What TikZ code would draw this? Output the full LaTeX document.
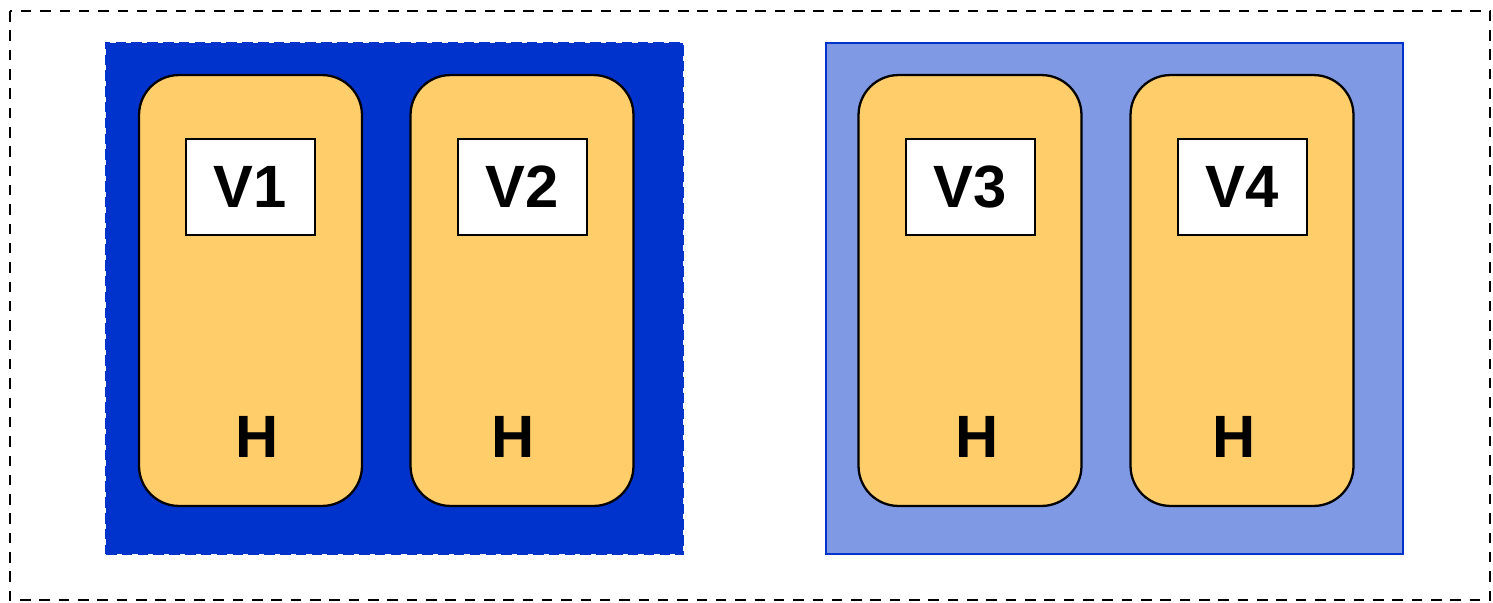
\documentclass[tikz,border=0pt]{standalone}
\usepackage{fontspec}
\setmainfont{Liberation Sans}
\definecolor{darkblue}{HTML}{0033CC}
\definecolor{lightblue}{HTML}{7F99E5}
\definecolor{hostfill}{HTML}{FFCD69}
\begin{document}
\begin{tikzpicture}[x=0.02cm,y=-0.02cm,
    group/.style={minimum width=11.54cm,minimum height=10.22cm,inner sep=0pt,line width=1.2pt},
    host/.style={draw=black,fill=hostfill,rounded corners=0.8cm,line width=1.3pt,minimum width=4.46cm,minimum height=8.62cm,inner sep=0pt},
    vm/.style={draw=black,fill=white,line width=1.1pt,minimum width=2.58cm,minimum height=1.92cm,inner sep=0pt,font=\fontsize{34}{38}\selectfont\bfseries},
    hlabel/.style={font=\fontsize{34}{38}\selectfont\bfseries,inner sep=0pt}]
  \useasboundingbox (0,0) rectangle (1493,602);
  \draw [line width=0.9pt,dash pattern=on 6pt off 5pt] (10,11) rectangle (1490,600);
  % first group
  \node [group,draw=darkblue,fill=darkblue,dash pattern=on 6pt off 3pt] (g1) at (394.5,298.5) {};
  \node [host] (h1) at (250.5,290.5) {};
  \node [host] (h2) at (522,290.5) {};
  \node [vm] (v1) at (250.5,187) {V1};
  \node [vm] (v2) at (522.5,187) {V2};
  \node [hlabel] (l1) at (257,437) {H};
  \node [hlabel] (l2) at (513,437) {H};
  % second group
  \node [group,draw=darkblue,fill=lightblue] (g2) at (1114.5,298.5) {};
  \node [host] (h3) at (970,290.5) {};
  \node [host] (h4) at (1242,290.5) {};
  \node [vm] (v3) at (970.5,187) {V3};
  \node [vm] (v4) at (1242.5,187) {V4};
  \node [hlabel] (l3) at (977,437) {H};
  \node [hlabel] (l4) at (1234,437) {H};
\end{tikzpicture}
\end{document}
